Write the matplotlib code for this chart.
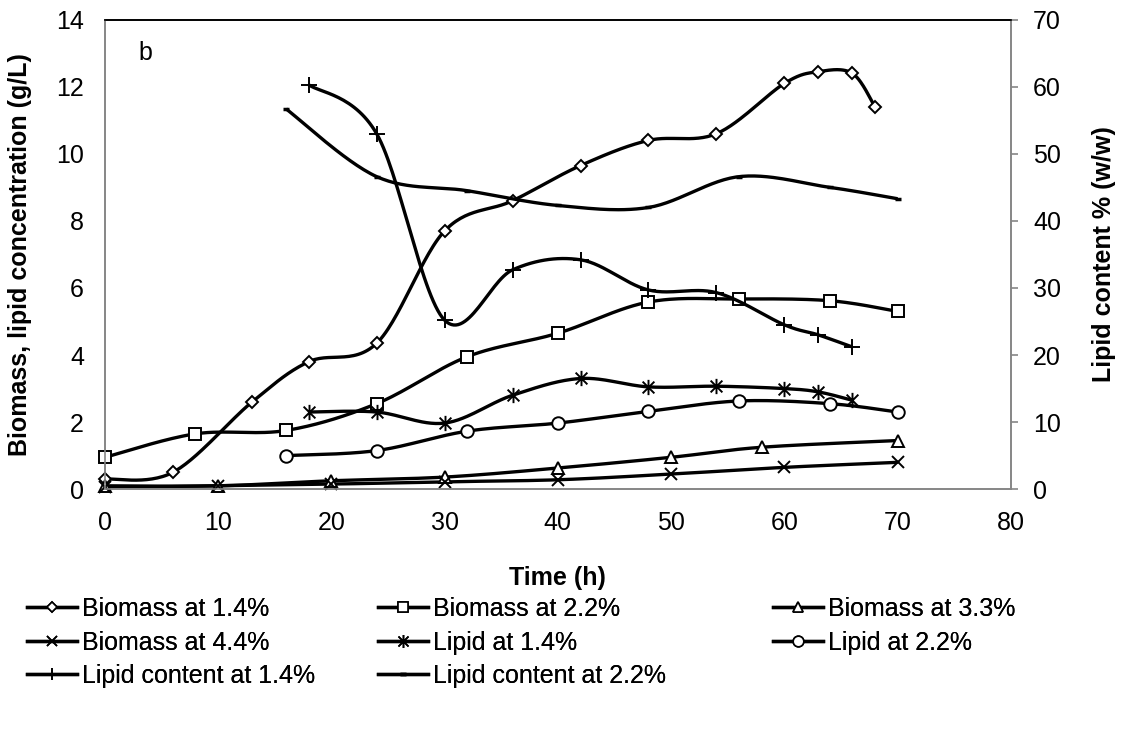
import matplotlib
matplotlib.use('Agg')
import matplotlib.pyplot as plt
import numpy as np
from matplotlib.path import Path

plt.rcParams['font.family'] = ['Liberation Sans', 'DejaVu Sans']

# biomass (left axis, g/L)
t_b14 = [0, 6, 13, 18, 24, 30, 36, 42, 48, 54, 60, 63, 66, 68]
b14 = [0.3, 0.5, 2.6, 3.8, 4.35, 7.7, 8.6, 9.65, 10.4, 10.6, 12.1, 12.45, 12.4, 11.4]
t_b22 = [0, 8, 16, 24, 32, 40, 48, 56, 64, 70]
b22 = [0.95, 1.65, 1.75, 2.55, 3.95, 4.65, 5.58, 5.67, 5.62, 5.3]
t_b33 = [0, 10, 20, 30, 40, 50, 58, 70]
b33 = [0.1, 0.1, 0.25, 0.36, 0.63, 0.95, 1.25, 1.45]
t_b44 = [0, 10, 20, 30, 40, 50, 60, 70]
b44 = [0.05, 0.1, 0.15, 0.22, 0.28, 0.45, 0.65, 0.8]

# lipid concentration (left axis, g/L)
t_l14 = [18, 24, 30, 36, 42, 48, 54, 60, 63, 66]
l14 = [2.3, 2.3, 1.97, 2.8, 3.3, 3.05, 3.07, 3.0, 2.9, 2.65]
t_l22 = [16, 24, 32, 40, 48, 56, 64, 70]
l22 = [1.0, 1.15, 1.73, 1.97, 2.32, 2.63, 2.55, 2.3]

# lipid content (right axis, % w/w)
t_lc14 = [18, 24, 30, 36, 42, 48, 54, 60, 63, 66]
lc14 = [60.3, 53.0, 25.2, 32.7, 34.2, 29.7, 29.3, 24.5, 23.0, 21.2]
t_lc22 = [16, 24, 32, 40, 48, 56, 64, 70]
lc22 = [56.7, 46.6, 44.5, 42.3, 42.0, 46.6, 45.0, 43.3]


def smooth(x, y, n=30):
    # Catmull-Rom curve through the points, like Excel's smoothed line
    p = np.column_stack([x, y]).astype(float)
    p = np.vstack([p[0], p, p[-1]])
    out = []
    for i in range(1, len(p) - 2):
        p0, p1, p2, p3 = p[i - 1], p[i], p[i + 1], p[i + 2]
        s = np.linspace(0, 1, n, endpoint=False)[:, None]
        seg = 0.5 * ((2 * p1) + (-p0 + p2) * s + (2 * p0 - 5 * p1 + 4 * p2 - p3) * s ** 2
                     + (-p0 + 3 * p1 - 3 * p2 + p3) * s ** 3)
        out.append(seg)
    out.append(p[-2][None, :])
    out = np.vstack(out)
    return out[:, 0], out[:, 1]


# asterisk marker: an x with a vertical bar
star = Path([(-1, -1), (1, 1), (-1, 1), (1, -1), (0, -1.3), (0, 1.3)],
            [Path.MOVETO, Path.LINETO, Path.MOVETO, Path.LINETO, Path.MOVETO, Path.LINETO])

fs = 18
fig = plt.figure(figsize=(11.27, 7.29), dpi=100)
ax1 = fig.add_axes([0.093, 0.329, 0.804, 0.644])
ax2 = ax1.twinx()

lw = 2.4
series = [
    (ax1, t_b14, b14, 'D', 6.5, 'Biomass at 1.4%'),
    (ax1, t_b22, b22, 's', 9, 'Biomass at 2.2%'),
    (ax1, t_b33, b33, '^', 8.5, 'Biomass at 3.3%'),
    (ax1, t_b44, b44, 'x', 9, 'Biomass at 4.4%'),
    (ax1, t_l14, l14, star, 11, 'Lipid at 1.4%'),
    (ax1, t_l22, l22, 'o', 9, 'Lipid at 2.2%'),
    (ax2, t_lc14, lc14, '+', 11, 'Lipid content at 1.4%'),
    (ax2, t_lc22, lc22, '_', 5, 'Lipid content at 2.2%'),
]

handles = []
for ax, t, v, mk, ms, lab in series:
    open_mk = mk in ('D', 's', '^', 'o')
    sx, sy = smooth(t, v)
    ax.plot(sx, sy, color='black', lw=lw, solid_capstyle='butt')
    ax.plot(t, v, ls='none', marker=mk, ms=ms, mfc='white' if open_mk else 'black',
            mec='black', mew=1.4 if mk != '_' else 2.5, clip_on=False, zorder=3)
    h, = ax.plot([], [], color='black', lw=lw, marker=mk, ms=ms * 0.85,
                 mfc='white' if open_mk else 'black', mec='black',
                 mew=1.2 if mk != '_' else 2.5, label=lab)
    handles.append(h)

ax1.set_xlim(0, 80)
ax1.set_ylim(0, 14)
ax2.set_ylim(0, 70)
ax1.set_xticks(np.arange(0, 81, 10))
ax1.set_yticks(np.arange(0, 15, 2))
ax2.set_yticks(np.arange(0, 71, 10))

for ax in (ax1, ax2):
    for side in ('left', 'bottom', 'right'):
        ax.spines[side].set_color('#868686')
        ax.spines[side].set_linewidth(1.2)
    ax.spines['top'].set_color('black')
    ax.spines['top'].set_linewidth(1.2)

ax1.tick_params(axis='y', length=0, labelsize=fs, pad=15)
ax1.tick_params(axis='x', length=0, labelsize=fs, pad=16)
ax2.tick_params(axis='y', direction='out', length=5, width=1.2, color='#868686',
                labelsize=fs, pad=11)

ax1.set_xlabel('Time (h)', fontsize=fs, fontweight='bold', labelpad=22)
ax1.set_ylabel('Biomass, lipid concentration (g/L)', fontsize=fs, fontweight='bold', labelpad=17)
ax2.set_ylabel('Lipid content % (w/w)', fontsize=fs, fontweight='bold', labelpad=22)

ax1.text(0.037, 0.93, 'b', transform=ax1.transAxes, fontsize=fs, va='center')

# one legend per column so each column starts where it does in the original
cols = [[0, 3, 6], [1, 4, 7], [2, 5]]
col_x = [0.024, 0.335, 0.686]
for idx, x0 in zip(cols, col_x):
    leg = fig.legend([handles[i] for i in idx], [handles[i].get_label() for i in idx],
                     loc='upper left', bbox_to_anchor=(x0, 0.181), frameon=False,
                     fontsize=fs, handlelength=2.0, handletextpad=0.2,
                     labelspacing=0.38, borderaxespad=0, borderpad=0)
    fig.add_artist(leg)

fig.savefig('out.png', dpi=100)
